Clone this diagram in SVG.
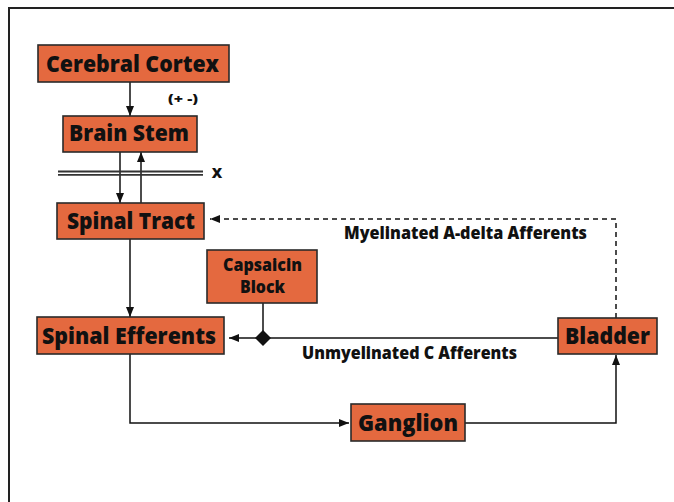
<svg xmlns="http://www.w3.org/2000/svg" width="674" height="502" viewBox="0 0 674 502">
<defs>
<marker id="ah" markerWidth="10" markerHeight="8" refX="10" refY="4" orient="auto" markerUnits="userSpaceOnUse">
<path d="M0,0 L10,4 L0,8 Z" fill="#111"/>
</marker>
<style>
.box{fill:#E4693F;stroke:#2a2a2a;stroke-width:1.6}
.t{font-family:"Open Sans","Liberation Sans",sans-serif;font-weight:800;fill:#111;text-anchor:middle}
.big{font-size:23px}
.mid{font-size:17px}
.ln{fill:none;stroke:#111;stroke-width:1.5}
</style>
</defs>
<rect x="9" y="8" width="700" height="520" fill="#fff" stroke="#222" stroke-width="2"/>
<g id="connectors">
<line class="ln" x1="130" y1="82" x2="130" y2="116" marker-end="url(#ah)"/>
<line class="ln" x1="120" y1="152" x2="120" y2="203" marker-end="url(#ah)"/>
<line class="ln" x1="141" y1="203" x2="141" y2="152" marker-end="url(#ah)"/>
<line x1="58" y1="171.5" x2="203" y2="171.5" stroke="#333" stroke-width="1.8"/>
<line x1="58" y1="174.8" x2="203" y2="174.8" stroke="#333" stroke-width="1.8"/>
<line class="ln" x1="130" y1="239" x2="130" y2="317" marker-end="url(#ah)"/>
<polyline class="ln" points="616,318 616,219 210,219" stroke-dasharray="5,4" marker-end="url(#ah)"/>
<line class="ln" x1="558" y1="338" x2="229" y2="338" marker-end="url(#ah)"/>
<line class="ln" x1="263" y1="303" x2="263" y2="338"/>
<path d="M263,330 L271,338 L263,346 L255,338 Z" fill="#111"/>
<polyline class="ln" points="130,354 130,423 349,423" marker-end="url(#ah)"/>
<polyline class="ln" points="465,423 616,423 616,355" marker-end="url(#ah)"/>
</g>
<g id="cerebral-cortex">
<rect class="box" x="38" y="45" width="191" height="37"/>
<text class="t big" x="132.5" y="72" textLength="173" lengthAdjust="spacingAndGlyphs">Cerebral Cortex</text>
</g>
<g id="plus-minus">
<text class="t" x="183" y="103" font-size="12.5" textLength="30" lengthAdjust="spacingAndGlyphs">(+ -)</text>
</g>
<g id="brain-stem">
<rect class="box" x="63" y="116" width="134" height="36"/>
<text class="t big" x="129" y="141" textLength="120" lengthAdjust="spacingAndGlyphs">Brain Stem</text>
</g>
<g id="x-label">
<text class="t" x="217" y="178" font-size="14.5">X</text>
</g>
<g id="spinal-tract">
<rect class="box" x="57" y="203" width="147" height="36"/>
<text class="t big" x="131" y="229" textLength="128" lengthAdjust="spacingAndGlyphs">Spinal Tract</text>
</g>
<g id="myelinated-label">
<text class="t mid" x="465.5" y="239" textLength="243" lengthAdjust="spacingAndGlyphs">Myelinated A-delta Afferents</text>
</g>
<g id="capsaicin-block">
<rect class="box" x="207" y="250" width="110" height="53"/>
<text class="t mid" x="262.5" y="271" textLength="79" lengthAdjust="spacingAndGlyphs">Capsaicin</text>
<text class="t mid" x="262.5" y="293" textLength="45" lengthAdjust="spacingAndGlyphs">Block</text>
</g>
<g id="spinal-efferents">
<rect class="box" x="37" y="317" width="187" height="37"/>
<text class="t big" x="129" y="344" textLength="174" lengthAdjust="spacingAndGlyphs">Spinal Efferents</text>
</g>
<g id="bladder">
<rect class="box" x="558" y="318" width="99" height="36"/>
<text class="t big" x="607.5" y="344" textLength="85" lengthAdjust="spacingAndGlyphs">Bladder</text>
</g>
<g id="unmyelinated-label">
<text class="t mid" x="409.5" y="359" textLength="215" lengthAdjust="spacingAndGlyphs">Unmyelinated C Afferents</text>
</g>
<g id="ganglion">
<rect class="box" x="351" y="404" width="114" height="37"/>
<text class="t big" x="408" y="431" textLength="100" lengthAdjust="spacingAndGlyphs">Ganglion</text>
</g>
</svg>
